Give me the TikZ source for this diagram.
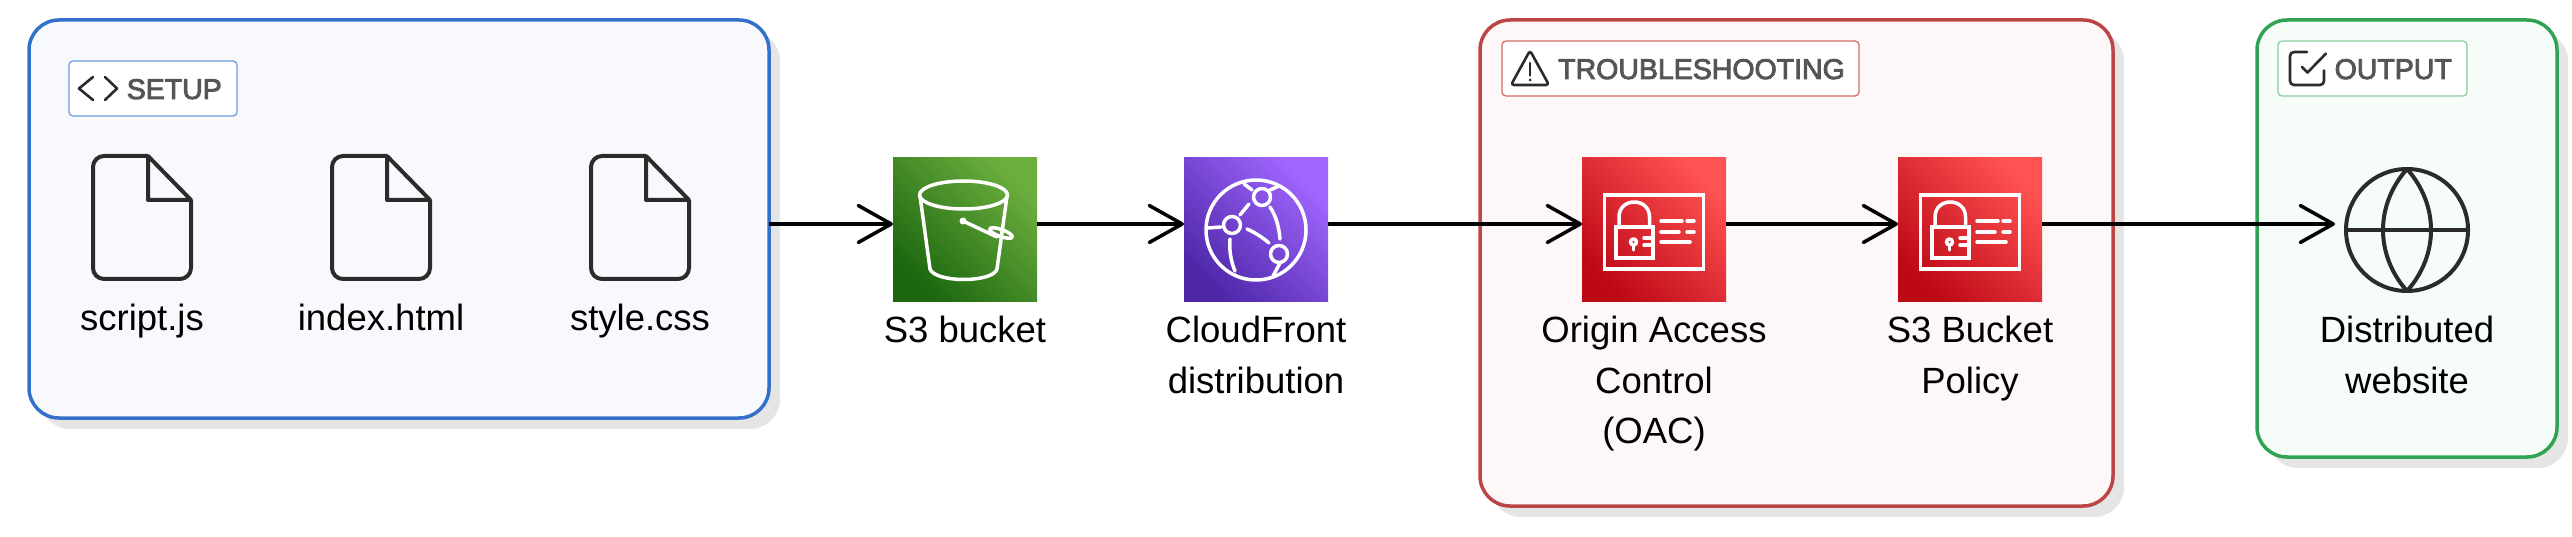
\documentclass[tikz,border=0pt]{standalone}
\usepackage{fontspec}
\setmainfont{Liberation Sans}
\newfontfamily\badgefont[FakeBold=3]{Liberation Sans}
\usepackage{tikz}
\usetikzlibrary{positioning,arrows.meta,shadows}
\definecolor{glyphdark}{HTML}{2B2B2B}
\definecolor{badgetextgrey}{HTML}{555555}
\definecolor{setupline}{HTML}{3370C8}
\definecolor{setupfill}{HTML}{F7F9FD}
\definecolor{setupbadgeline}{HTML}{6E9AE0}
\definecolor{troubleline}{HTML}{BC4545}
\definecolor{troublefill}{HTML}{FDF7F7}
\definecolor{troublebadgeline}{HTML}{D46A6A}
\definecolor{outputline}{HTML}{2FA353}
\definecolor{outputfill}{HTML}{F6FCF8}
\definecolor{outputbadgeline}{HTML}{86CF9F}
\definecolor{s3low}{HTML}{1B660F}
\definecolor{s3high}{HTML}{6CAE3E}
\definecolor{cdnlow}{HTML}{4D27A8}
\definecolor{cdnhigh}{HTML}{A166FF}
\definecolor{seclow}{HTML}{BD0816}
\definecolor{sechigh}{HTML}{FF5252}
\tikzset{
  groupbox/.style={rounded corners=30pt, line width=3.5pt, outer sep=0pt,
                   drop shadow={shadow xshift=11pt, shadow yshift=-11pt, fill=black!10, opacity=1}},
  bluegroup/.style={draw=setupline, fill=setupfill},
  redgroup/.style={draw=troubleline, fill=troublefill},
  greengroup/.style={draw=outputline, fill=outputfill},
  badgebox/.style={draw, fill=white, rounded corners=4pt, line width=1.3pt, minimum height=55, outer sep=0pt},
  badgetext/.style={font=\badgefont\fontsize{28.5}{34}\selectfont, text=badgetextgrey, inner sep=0pt},
  iconbox/.style={minimum size=144, inner sep=0pt, outer sep=0pt},
  s3fill/.style={left color=s3low, right color=s3high, shading angle=135},
  cdnfill/.style={left color=cdnlow, right color=cdnhigh, shading angle=135},
  secfill/.style={left color=seclow, right color=sechigh, shading angle=135},
  filenode/.style={minimum width=98, minimum height=123, inner sep=0pt, outer sep=0pt},
  caption/.style={font=\fontsize{36.5}{50.5}\selectfont, align=center, inner sep=0pt},
  flowarrow/.style={-{Straight Barb[length=33pt,width=37pt,line width=3.5pt,round]}, line width=3.5pt, black},
  whiteglyph/.style={draw=white, line width=3.5pt, line cap=round, line join=round},
  darkglyph/.style={draw=glyphdark, line width=4pt, line join=round},
  badgeglyph/.style={draw=glyphdark, line width=2.6pt, line cap=round, line join=round},
  pics/fileglyph/.style={code={
    \draw[darkglyph, rounded corners=11pt] (6,61.5) -- (-49,61.5) -- (-49,-61.5) -- (49,-61.5) -- (49,17.5);
    \draw[darkglyph] (49,17.5) -- (6,61.5) -- (6,17.5) -- cycle;
  }},
  pics/bucketglyph/.style={code={
    \draw[whiteglyph] (-1.5,35) ellipse (44 and 14);
    \draw[whiteglyph] (-45,34) -- (-35,-39) .. controls (-30,-53) and (28,-53) .. (32,-39) -- (42,34);
    \fill[white] (-2,9) circle (3.5);
    \draw[whiteglyph] (-2,9) -- (32,-7);
    \draw[whiteglyph, rotate around={-20:(36,-3)}] (36,-3) ellipse (12 and 3.5);
  }},
  pics/cdnglyph/.style={code={
    \draw[whiteglyph] (0,0) circle (50);
    \draw[whiteglyph] (6,33) circle (8.5);
    \draw[whiteglyph] (-24,5) circle (8.5);
    \draw[whiteglyph] (23,-24) circle (8.5);
    \draw[whiteglyph] (-7,26) -- (-16,15);
    \draw[whiteglyph] (14,23) .. controls (20,14) and (23,3) .. (24,-9);
    \draw[whiteglyph] (-9,1) .. controls (-2,-2) and (6,-7) .. (13,-13);
    \draw[whiteglyph] (-48,2) -- (-35,3);
    \draw[whiteglyph] (-26,-9) .. controls (-27,-20) and (-25,-32) .. (-21,-41);
    \draw[whiteglyph] (-12,46) -- (-4,40);
    \draw[whiteglyph] (14,40) -- (23,44);
    \draw[whiteglyph] (24,-33) -- (17,-46);
  }},
  pics/lockcardglyph/.style={code={
    \draw[whiteglyph, line join=miter] (-49.5,35) rectangle (49.5,-39);
    \draw[whiteglyph, line join=miter] (-38,3) rectangle (-1,-28);
    \draw[whiteglyph] (-35,3) -- (-35,13) .. controls (-35,33) and (-4.5,33) .. (-4.5,13) -- (-4.5,3);
    \draw[whiteglyph] (-20.5,-12) circle (3);
    \draw[whiteglyph] (-20.5,-15) -- (-20.5,-20);
    \draw[whiteglyph] (-10,-8) -- (-2,-8);
    \draw[whiteglyph] (-10,-15) -- (-2,-15);
    \draw[whiteglyph] (7,9) -- (28,9);
    \draw[whiteglyph] (33,9) -- (40,9);
    \draw[whiteglyph] (7,-2) -- (25,-2);
    \draw[whiteglyph] (33,-2) -- (40,-2);
    \draw[whiteglyph] (7,-12) -- (36,-12);
  }},
  pics/globeglyph/.style={code={
    \draw[darkglyph] (0,0) circle (61);
    \draw[darkglyph] (-61,0) -- (61,0);
    \draw[darkglyph] (0,61) .. controls (-32,25) and (-32,-25) .. (0,-61);
    \draw[darkglyph] (0,61) .. controls (32,25) and (32,-25) .. (0,-61);
  }},
}

\begin{document}
\begin{tikzpicture}[x=1pt, y=1pt]
  \useasboundingbox (0,0) rectangle (2572,536);
  \coordinate (rail) at (0,312);

  % groups
  \node[groupbox, bluegroup, minimum width=740, minimum height=398] (setup) at (399,317) {};
  \node[groupbox, redgroup, minimum width=633, minimum height=486] (trouble) at (1796.5,273) {};
  \node[groupbox, greengroup, minimum width=300, minimum height=437] (output) at (2407,297.5) {};

  % badges
  \node[badgebox, draw=setupbadgeline, minimum width=168] (setupbadge) at (153,447.5) {};
  \node[badgetext, anchor=base east] (setuptext) at ([xshift=-15pt, yshift=-10.5pt]setupbadge.east) {SETUP};
  \draw[badgeglyph] ([xshift=24pt, yshift=11.5pt]setupbadge.west) -- ([xshift=10pt]setupbadge.west) -- ([xshift=24pt, yshift=-11.5pt]setupbadge.west);
  \draw[badgeglyph] ([xshift=36pt, yshift=11.5pt]setupbadge.west) -- ([xshift=48pt]setupbadge.west) -- ([xshift=36pt, yshift=-11.5pt]setupbadge.west);

  \node[badgebox, draw=troublebadgeline, minimum width=357] (troublebadge) at (1680.5,467.5) {};
  \node[badgetext, anchor=base east] (troubletext) at ([xshift=-14pt, yshift=-10.5pt]troublebadge.east) {TROUBLESHOOTING};
  \draw[badgeglyph, rounded corners=3pt] ([xshift=28pt, yshift=18pt]troublebadge.west) -- ([xshift=47pt, yshift=-16.5pt]troublebadge.west) -- ([xshift=9pt, yshift=-16.5pt]troublebadge.west) -- cycle;
  \draw[badgeglyph] ([xshift=28pt, yshift=5.5pt]troublebadge.west) -- ([xshift=28pt, yshift=-7pt]troublebadge.west);
  \fill[glyphdark] ([xshift=28pt, yshift=-11.5pt]troublebadge.west) circle (1.5);

  \node[badgebox, draw=outputbadgeline, minimum width=189] (outputbadge) at (2372.5,467.5) {};
  \node[badgetext, anchor=base east] (outputtext) at ([xshift=-15pt, yshift=-10.5pt]outputbadge.east) {OUTPUT};
  \draw[badgeglyph, rounded corners=4pt] ([xshift=29pt, yshift=16.5pt]outputbadge.west) -- ([xshift=12pt, yshift=16.5pt]outputbadge.west) -- ([xshift=12pt, yshift=-16.5pt]outputbadge.west) -- ([xshift=46pt, yshift=-16.5pt]outputbadge.west) -- ([xshift=46pt, yshift=-2pt]outputbadge.west);
  \draw[badgeglyph] ([xshift=24pt, yshift=1.5pt]outputbadge.west) -- ([xshift=29.5pt, yshift=-4pt]outputbadge.west) -- ([xshift=48pt, yshift=15pt]outputbadge.west);

  % files
  \node[filenode] (script) at (142,318.5) {};
  \node[filenode] (index) at (381,318.5) {};
  \node[filenode] (style) at (640,318.5) {};
  \pic at (script) {fileglyph};
  \pic at (index) {fileglyph};
  \pic at (style) {fileglyph};
  \node[caption, below=25pt of script] (scriptlabel) {script.js};
  \node[caption, below=25pt of index] (indexlabel) {index.html};
  \node[caption, below=25pt of style] (stylelabel) {style.css};

  % aws icons
  \node[iconbox, s3fill] (bucket) at (965,306) {};
  \node[iconbox, cdnfill] (cdn) at (1256,306) {};
  \node[iconbox, secfill] (oac) at (1654,306) {};
  \node[iconbox, secfill] (policy) at (1970,306) {};
  \node[iconbox] (website) at (2407,306) {};
  \pic at (bucket) {bucketglyph};
  \pic at (cdn) {cdnglyph};
  \pic at (oac) {lockcardglyph};
  \pic at (policy) {lockcardglyph};
  \pic at (website) {globeglyph};

  \node[caption, below=14pt of bucket] (bucketlabel) {S3 bucket};
  \node[caption, below=14pt of cdn] (cdnlabel) {CloudFront\\distribution};
  \node[caption, below=14pt of oac] (oaclabel) {Origin Access\\Control\\(OAC)};
  \node[caption, below=14pt of policy] (policylabel) {S3 Bucket\\Policy};
  \node[caption, below=14pt of website] (websitelabel) {Distributed\\website};

  \draw[flowarrow] (setup.east |- rail) -- (bucket.west |- rail);
  \draw[flowarrow] (bucket.east |- rail) -- (cdn.west |- rail);
  \draw[flowarrow] (cdn.east |- rail) -- (oac.west |- rail);
  \draw[flowarrow] (oac.east |- rail) -- (policy.west |- rail);
  \draw[flowarrow] (policy.east |- rail) -- (website.west |- rail);
\end{tikzpicture}
\end{document}
